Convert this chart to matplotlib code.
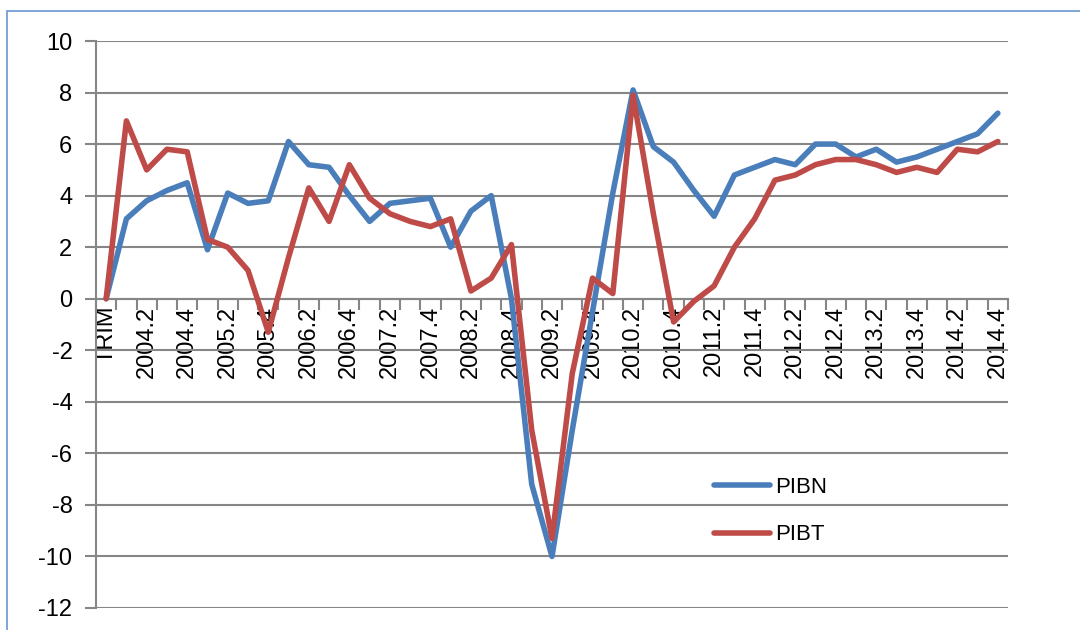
import matplotlib.pyplot as plt
from matplotlib.patches import Rectangle

# categorias (trimestres)
trimestres = ['TRIM'] + [f'{a}.{t}' for a in range(2004, 2015) for t in range(1, 5)]

pibn = [0.0, 3.1, 3.8, 4.2, 4.5, 1.9, 4.1, 3.7, 3.8, 6.1,
        5.2, 5.1, 4.0, 3.0, 3.7, 3.8, 3.9, 2.0, 3.4, 4.0,
        0.0, -7.2, -10.0, -5.1, -0.5, 4.1, 8.1, 5.9, 5.3, 4.2,
        3.2, 4.8, 5.1, 5.4, 5.2, 6.0, 6.0, 5.5, 5.8, 5.3,
        5.5, 5.8, 6.1, 6.4, 7.2]

pibt = [0.0, 6.9, 5.0, 5.8, 5.7, 2.3, 2.0, 1.1, -1.3, 1.6,
        4.3, 3.0, 5.2, 3.9, 3.3, 3.0, 2.8, 3.1, 0.3, 0.8,
        2.1, -5.1, -9.3, -2.9, 0.8, 0.2, 7.9, 3.3, -0.9, -0.1,
        0.5, 2.0, 3.1, 4.6, 4.8, 5.2, 5.4, 5.4, 5.2, 4.9,
        5.1, 4.9, 5.8, 5.7, 6.1]

yticks = list(range(-12, 11, 2))

plt.rcParams['font.family'] = ['Liberation Sans', 'DejaVu Sans']

fig = plt.figure(figsize=(10.8, 6.3), dpi=100)
ax = fig.add_axes([96 / 1080, 22 / 630, 912 / 1080, 567 / 630])

x = list(range(len(trimestres)))
ax.plot(x, pibn, color='#4A7EBB', lw=4, solid_joinstyle='round',
        solid_capstyle='round', label='PIBN', zorder=3)
ax.plot(x, pibt, color='#BE4B48', lw=4, solid_joinstyle='round',
        solid_capstyle='round', label='PIBT', zorder=4)

ax.set_xlim(-0.5, len(trimestres) - 0.5)
ax.set_ylim(-12, 10)
ax.set_yticks(yticks)
ax.set_yticklabels([str(v) for v in yticks], fontsize=17)
ax.yaxis.grid(True, color='#868686', lw=1.5)
ax.set_axisbelow(True)
ax.tick_params(axis='y', length=8, width=1.5, color='#868686', pad=9)

# eixo x no zero, marcas entre categorias
ax.spines['bottom'].set_position(('data', 0))
ax.spines['bottom'].set_color('#868686')
ax.spines['bottom'].set_linewidth(1.5)
ax.spines['left'].set_color('#868686')
ax.spines['left'].set_linewidth(1.5)
ax.spines['top'].set_visible(False)
ax.spines['right'].set_visible(False)

ax.set_xticks([i - 0.5 for i in range(len(trimestres) + 1)])
ax.set_xticklabels([])
ax.tick_params(axis='x', which='major', length=8, width=1.5, color='#868686')
ax.set_xticks(x[::2], minor=True)
ax.set_xticklabels(trimestres[::2], minor=True, rotation=90, fontsize=17)
ax.tick_params(axis='x', which='minor', length=0, pad=5)

ax.legend(loc='center left', bbox_to_anchor=(714 / 1080, 119 / 630),
          bbox_transform=fig.transFigure, frameon=False, fontsize=16,
          handlelength=2.5, handletextpad=0.25, labelspacing=1.2,
          borderpad=0, borderaxespad=0)

# borda da area do grafico
fig.patches.append(Rectangle((7 / 1080, -0.1), 1.2, (630 - 11) / 630 + 0.1,
                             transform=fig.transFigure, fill=False,
                             edgecolor='#6A95CF', lw=1.2))

fig.savefig('out.png', dpi=100)
